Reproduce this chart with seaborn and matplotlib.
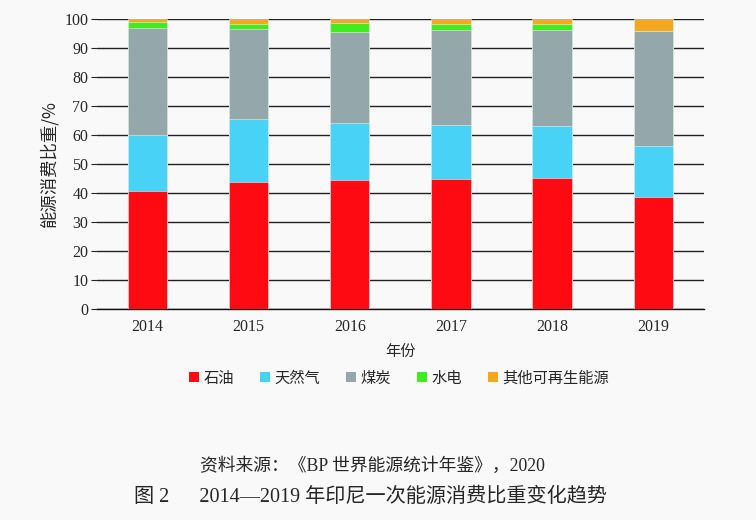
import matplotlib
matplotlib.use("Agg")
import matplotlib.pyplot as plt
import seaborn as sns
import pandas as pd
import numpy as np
from matplotlib.patches import Patch

years = ["2014", "2015", "2016", "2017", "2018", "2019"]
oil = [40.7, 43.9, 44.4, 44.8, 45.1, 38.7]
gas = [19.2, 21.5, 19.7, 18.6, 18.1, 17.7]
coal = [37.2, 31.2, 31.5, 32.8, 33.0, 39.6]
hydro = [2.0, 1.9, 3.1, 2.1, 2.1, 0.0]
other = [0.9, 1.5, 1.3, 1.7, 1.7, 4.0]

series_names = ["石油", "天然气", "煤炭", "水电", "其他可再生能源"]
series_vals = [oil, gas, coal, hydro, other]
colors = ["#fd0a12", "#48d2f5", "#94a8ac", "#40ec20", "#f4a81d"]

sns.set_theme(style="white")
plt.rcParams['font.family'] = ['Liberation Serif', 'Noto Sans CJK SC', 'DejaVu Sans']
cjk = ['Noto Sans CJK SC', 'DejaVu Sans']
serif_cjk = ['Liberation Serif', 'Noto Sans CJK SC']

bg = "#f9f9f9"
fig = plt.figure(figsize=(7.56, 5.2), dpi=100, facecolor=bg)
ax = fig.add_axes([0.128, 0.406, 0.803, 0.557], facecolor=bg)

cum = np.zeros(len(years))
cums = []
for v in series_vals:
    cum = cum + np.array(v)
    cums.append(cum.copy())

for i in range(len(series_vals) - 1, -1, -1):
    d = pd.DataFrame({"year": years, "val": cums[i]})
    sns.barplot(data=d, x="year", y="val", color=colors[i], width=0.39,
                saturation=1, ax=ax, edgecolor="#f0f0f0", linewidth=0.4, zorder=3)

ax.set_ylim(0, 100)
ax.set_xlim(-0.5, 5.5)
ax.set_yticks(range(0, 101, 10))
ax.yaxis.grid(True, color="#222222", linewidth=1.0, zorder=0)
ax.set_axisbelow(True)
for s in ["top", "right", "left"]:
    ax.spines[s].set_visible(False)
ax.spines["bottom"].set_color("#111111")
ax.spines["bottom"].set_linewidth(1.0)
ax.tick_params(axis="y", left=True, length=4, width=0.8, color="#222222", labelsize=11.5, pad=2)
ax.tick_params(axis="x", bottom=False, labelsize=11.5, pad=1)
ax.set_xlabel("年份", fontsize=11, family=cjk, labelpad=6)
ax.set_ylabel("能源消费比重/%", fontsize=12.5, family=cjk, labelpad=4)

handles = [Patch(facecolor=c, edgecolor="none") for c in colors]
fig.legend(handles, series_names, loc="center", bbox_to_anchor=(0.528, 0.273), ncol=5,
           frameon=False, prop={"family": cjk, "size": 11}, handlelength=0.65,
           handleheight=0.65, handletextpad=0.3, columnspacing=1.7)

fig.text(0.493, 0.104, "资料来源：《BP 世界能源统计年鉴》，2020", ha="center", va="center",
         fontsize=12.8, family=serif_cjk)
fig.text(0.49, 0.044, "图 2　  2014—2019 年印尼一次能源消费比重变化趋势", ha="center", va="center",
         fontsize=14.5, family=serif_cjk)

fig.savefig("out.png", dpi=100, facecolor=bg)
